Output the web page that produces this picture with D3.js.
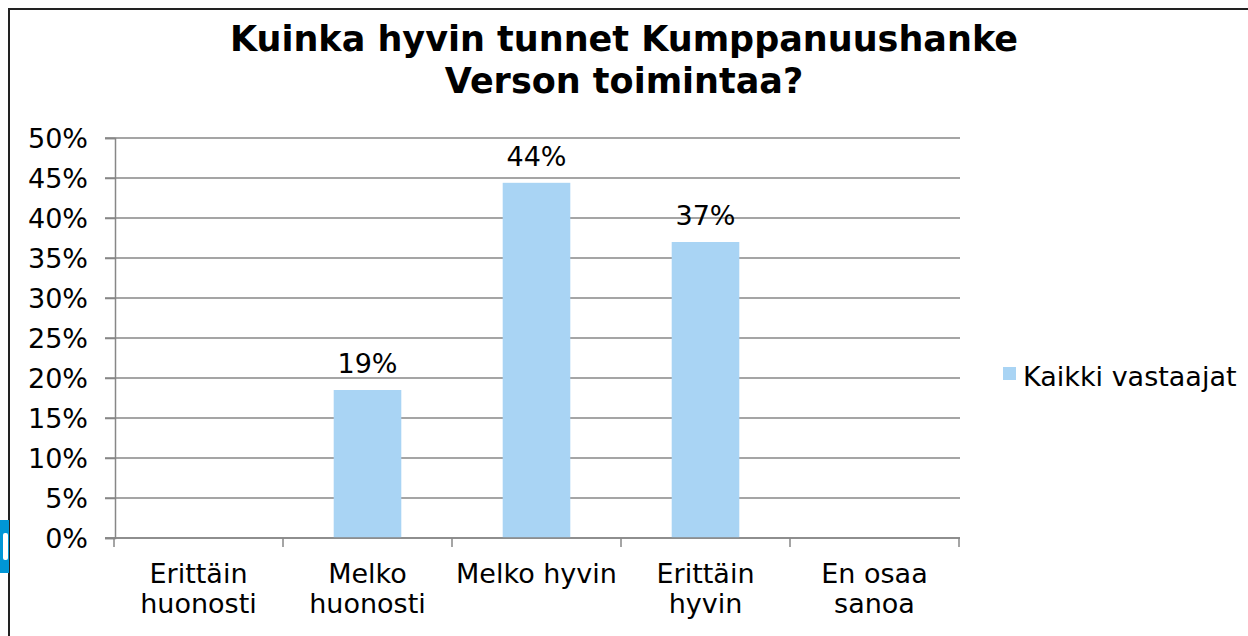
<!DOCTYPE html>
<html>
<head>
<meta charset="utf-8">
<script src="https://cdn.jsdelivr.net/npm/d3@7"></script>
<style>
  body { margin: 0; background: #fff; }
  svg { display: block; font-family: "DejaVu Sans", Verdana, sans-serif; }
</style>
</head>
<body>
<script>
const width = 1248;
const height = 636;

// Data
const categories = [["Erittäin", "huonosti"], ["Melko", "huonosti"], ["Melko hyvin"], ["Erittäin", "hyvin"], ["En osaa", "sanoa"]];
const values = [0, 18.5, 44.4, 37.0, 0];
const labels = ["", "19%", "44%", "37%", ""];
const yTicks = [0, 5, 10, 15, 20, 25, 30, 35, 40, 45, 50];
const seriesName = "Kaikki vastaajat";
const titleLines = ["Kuinka hyvin tunnet Kumppanuushanke", "Verson toimintaa?"];

const svg = d3.select("body").append("svg")
    .attr("width", width)
    .attr("height", height);

// Reunus ja vasemman laidan sininen pala
svg.append("rect")
    .attr("x", 9).attr("y", 9)
    .attr("width", width + 20).attr("height", height + 20)
    .attr("fill", "none")
    .attr("stroke", "#222")
    .attr("stroke-width", 2);
svg.append("rect")
    .attr("x", 0).attr("y", 520).attr("width", 9).attr("height", 53)
    .attr("fill", "#0096d6");
svg.append("rect")
    .attr("x", 3).attr("y", 533).attr("width", 5).attr("height", 27).attr("rx", 2)
    .attr("fill", "#fff");

const x = d3.scaleBand()
    .domain(d3.range(categories.length))
    .range([114, 959])
    .paddingInner(0.6)
    .paddingOuter(0.3);

const y = d3.scaleLinear()
    .domain([0, 50])
    .range([538, 138]);

// Otsikko
svg.append("text")
    .attr("x", 624)
    .attr("y", 51)
    .attr("text-anchor", "middle")
    .attr("font-size", "35px")
    .attr("font-weight", "bold")
    .selectAll("tspan")
    .data(titleLines)
    .enter().append("tspan")
    .attr("x", 624)
    .attr("dy", (d, i) => i === 0 ? 0 : 42)
    .text(d => d);

// Ruudukko
svg.append("g")
    .selectAll("line")
    .data(yTicks)
    .enter().append("line")
    .attr("x1", 105)
    .attr("x2", 960)
    .attr("y1", d => y(d))
    .attr("y2", d => y(d))
    .attr("stroke", "#878787")
    .attr("stroke-width", 1.5);

// Y-akseli
const yAxis = svg.append("g")
    .attr("transform", "translate(115,0)")
    .call(d3.axisLeft(y).tickValues(yTicks).tickSize(10).tickFormat(d => d + "%"));
yAxis.select(".domain").attr("stroke", "#878787").attr("stroke-width", 1.5);
yAxis.selectAll(".tick line").attr("stroke", "#878787").attr("stroke-width", 1.5);
yAxis.selectAll("text")
    .attr("font-size", "27px")
    .attr("font-family", "DejaVu Sans, sans-serif")
    .attr("fill", "#000")
    .attr("x", -27)
    .attr("dy", "0.36em");

// Pylväät
svg.append("g")
    .selectAll("rect")
    .data(values)
    .enter().append("rect")
    .attr("x", (d, i) => x(i))
    .attr("y", d => y(d))
    .attr("width", x.bandwidth())
    .attr("height", d => y(0) - y(d))
    .attr("fill", "#a9d4f4");

// Arvot
svg.append("g")
    .selectAll("text")
    .data(values)
    .enter().append("text")
    .attr("x", (d, i) => x(i) + x.bandwidth() / 2)
    .attr("y", d => y(d) - 17)
    .attr("text-anchor", "middle")
    .attr("font-size", "27px")
    .text((d, i) => labels[i]);

// X-akseli
const xAxis = svg.append("g").attr("transform", "translate(0,538)");
xAxis.append("line")
    .attr("x1", 105).attr("x2", 960)
    .attr("stroke", "#878787").attr("stroke-width", 1.5);
const step = x.step();
xAxis.selectAll(".xt")
    .data(d3.range(categories.length + 1))
    .enter().append("line")
    .attr("class", "xt")
    .attr("x1", i => x(0) - step * 0.3 + i * step)
    .attr("x2", i => x(0) - step * 0.3 + i * step)
    .attr("y1", 0).attr("y2", 9)
    .attr("stroke", "#878787").attr("stroke-width", 1.5);
xAxis.selectAll(".xl")
    .data(categories)
    .enter().append("text")
    .attr("class", "xl")
    .attr("text-anchor", "middle")
    .attr("font-size", "27px")
    .selectAll("tspan")
    .data((d, i) => d.map(t => ({ t: t, i: i })))
    .enter().append("tspan")
    .attr("x", d => x(d.i) + x.bandwidth() / 2)
    .attr("y", (d, j) => 45 + j * 30)
    .text(d => d.t);

// Selite
const legend = svg.append("g").attr("transform", "translate(1003,367)");
legend.append("rect")
    .attr("width", 13).attr("height", 13)
    .attr("fill", "#a9d4f4");
legend.append("text")
    .attr("x", 20)
    .attr("y", 19)
    .attr("font-size", "27px")
    .text(seriesName);
</script>
</body>
</html>
